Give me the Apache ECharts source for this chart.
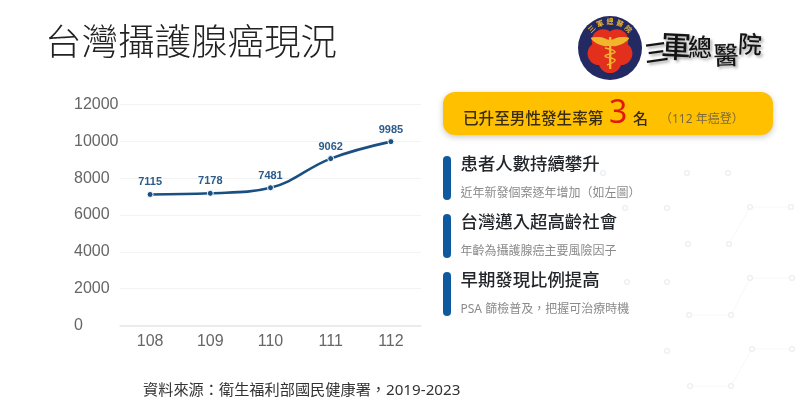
<!DOCTYPE html>
<html lang="zh-Hant">
<head>
<meta charset="utf-8">
<title>台灣攝護腺癌現況</title>
<style>
  html, body { margin: 0; padding: 0; background: #fff; }
  #chart { width: 800px; height: 416px; }
</style>
<script src="https://cdn.jsdelivr.net/npm/echarts@6/dist/echarts.min.js"></script>
</head>
<body>
<div id="chart"></div>
<script>
// Annual new prostate cancer cases in Taiwan, ROC years 108-112
const years = ['108', '109', '110', '111', '112'];
const newCases = [7115, 7178, 7481, 9062, 9985];
const yTicks = { min: 0, max: 12000, interval: 2000 };

const pageTitle = '台灣攝護腺癌現況';
const sourceNote = '資料來源：衛生福利部國民健康署，2019-2023';
const rankLead = '已升至男性發生率第';
const rankValue = '3';
const rankUnit = '名';
const rankNote = '（112 年癌登）';
const headlines = ['患者人數持續攀升', '台灣邁入超高齡社會', '早期發現比例提高'];
const details = ['近年新發個案逐年增加（如左圖）', '年齡為攝護腺癌主要風險因子', 'PSA 篩檢普及，把握可治療時機'];

const SANS = '"Noto Sans", "Noto Sans CJK TC", sans-serif';
const CJK = '"Noto Sans CJK TC", sans-serif';

const label = (x, y, text, font, fill, extra) => ({
  type: 'text', x, y, silent: true,
  style: Object.assign({ text, font, fill, textAlign: 'left', textVerticalAlign: 'middle' }, extra || {})
});

// Faint network pattern behind the right-hand column
const nodes = [[603,173],[687,173],[728,173],[625,208],[667,208],[750,207],[791,207],[688,244],[729,244],
  [627,282],[667,282],[750,278],[792,278],[689,315],[731,315],[667,351],[752,349],[792,349],[690,386],[731,386]];
const links = [[5,6],[11,12],[16,17],[18,19],[13,14],[5,8],[11,14],[16,19]];
const backdrop = [];
links.forEach(([a, b]) => backdrop.push({
  type: 'line', silent: true,
  shape: { x1: nodes[a][0], y1: nodes[a][1], x2: nodes[b][0], y2: nodes[b][1] },
  style: { stroke: '#f8f8f9', lineWidth: 1 }
}));
nodes.forEach(([x, y]) => backdrop.push({
  type: 'circle', silent: true, shape: { cx: x, cy: y, r: 2.4 },
  style: { fill: '#fff', stroke: '#eceef0', lineWidth: 1.3 }
}));

// Hospital emblem: navy disc, red blossom, gold caduceus
const emblem = [
  { type: 'circle', silent: true, shape: { cx: 610, cy: 48, r: 32 }, style: { fill: '#232a63' } }
];
[-90, -18, 54, 126, 198].forEach(deg => {
  const r = deg * Math.PI / 180;
  emblem.push({
    type: 'circle', silent: true,
    shape: { cx: 610 + 11.5 * Math.cos(r + Math.PI), cy: 50 + 11.5 * Math.sin(r + Math.PI), r: 11.5 },
    style: { fill: '#e2301c' }
  });
});
emblem.push(
  { type: 'polygon', silent: true, shape: { points: [[591,38],[600,37],[610,40],[620,37],[629,38],[624,43],[616,46],[610,46],[604,46],[596,43]], smooth: 0.3 }, style: { fill: '#f0b62c' } },
  { type: 'rect', silent: true, shape: { x: 609, y: 37, width: 2.4, height: 32 }, style: { fill: '#f0b62c' } },
  { type: 'polyline', silent: true, shape: { points: [[605,48],[615,52],[605,56],[615,60],[607,65]], smooth: 0.5 }, style: { stroke: '#f0b62c', fill: null, lineWidth: 1.5 } }
);
['三', '軍', '總', '醫', '院'].forEach((ch, i) => {
  const deg = -44 + i * 22;
  const r = deg * Math.PI / 180;
  emblem.push({
    type: 'text', silent: true,
    x: 610 + 26.5 * Math.sin(r), y: 48 - 26.5 * Math.cos(r), rotation: -r,
    style: { text: ch, font: 'bold 7px ' + CJK, fill: '#f0b62c', textAlign: 'center', textVerticalAlign: 'middle' }
  });
});

// Brush-style hospital name beside the emblem
const brushShadow = { textShadowColor: 'rgba(0,0,0,0.35)', textShadowBlur: 3, textShadowOffsetX: 2, textShadowOffsetY: 2 };
const wordmark = [
  ['三', 656, 52, 24, 0.14], ['軍', 676, 46, 30, -0.05], ['總', 700, 47, 24, 0],
  ['醫', 726, 55, 25, 0.03], ['院', 750, 44, 24, -0.05]
].map(([ch, x, y, size, rot]) => ({
  type: 'text', silent: true, x, y, rotation: rot,
  style: Object.assign({ text: ch, font: '500 ' + size + 'px ' + CJK, fill: '#141414', textAlign: 'center', textVerticalAlign: 'middle' }, brushShadow)
}));

// Right-hand column: rank banner and the three talking points
const barTops = [156, 214, 272];
const points = [];
barTops.forEach((top, i) => {
  points.push(
    { type: 'rect', silent: true, shape: { x: 443, y: top, width: 8, height: 44, r: 4 }, style: { fill: '#0f5a9e' } },
    label(460.5, top + 7, headlines[i], '500 17.4px ' + CJK, '#23272b'),
    label(460.5, top + 38, details[i], '12px ' + SANS, '#8a8a8a')
  );
});

const panel = [
  { type: 'rect', silent: true, shape: { x: 443, y: 92, width: 330, height: 43, r: 12 },
    style: { fill: '#ffc000', shadowColor: 'rgba(0,0,0,0.22)', shadowBlur: 6, shadowOffsetY: 2 } },
  label(463, 118, rankLead, '500 15.6px ' + CJK, '#3a2c10'),
  label(609, 114, rankValue, '32px ' + SANS, '#e3170a'),
  label(633, 118, rankUnit, '500 15px ' + CJK, '#3a2c10'),
  label(660, 120, rankNote, '12px ' + SANS, '#7d6a3a')
];

const titles = [
  label(45, 41, pageTitle, '300 36.5px ' + CJK, '#222'),
  label(143, 391, sourceNote, '15.2px ' + SANS, '#333')
];

const chart = echarts.init(document.getElementById('chart'), null, { renderer: 'canvas' });
chart.setOption({
  animation: false,
  backgroundColor: '#fff',
  grid: { left: 120, right: 379, top: 104.5, bottom: 90.5 },
  xAxis: {
    type: 'category',
    data: years,
    axisLine: { lineStyle: { color: '#e8e8e8', width: 1.5 } },
    axisTick: { show: false },
    axisLabel: { color: '#666', fontSize: 16, fontFamily: '"Liberation Sans", Arial, sans-serif', margin: 8 }
  },
  yAxis: {
    type: 'value',
    min: yTicks.min,
    max: yTicks.max,
    interval: yTicks.interval,
    axisLine: { show: false },
    axisTick: { show: false },
    splitLine: { lineStyle: { color: '#f3f3f3', width: 1 } },
    axisLabel: {
      color: '#666', fontSize: 16, fontFamily: '"Liberation Sans", Arial, sans-serif',
      align: 'left', margin: 46, padding: [5, 0, 0, 0],
      formatter: value => String(value)
    }
  },
  series: [{
    type: 'line',
    data: newCases,
    smooth: 0.4,
    symbol: 'circle',
    symbolSize: 6,
    lineStyle: { color: '#1a4f82', width: 2.6 },
    itemStyle: { color: '#1a4f82', borderColor: '#fff', borderWidth: 1 },
    label: {
      show: true, position: 'top', distance: 3,
      color: '#2b5c8c', fontSize: 11, fontWeight: 'bold',
      fontFamily: '"Liberation Sans", Arial, sans-serif'
    },
    z: 5
  }],
  graphic: { elements: [].concat(backdrop, titles, emblem, wordmark, panel, points) }
});
</script>
</body>
</html>
